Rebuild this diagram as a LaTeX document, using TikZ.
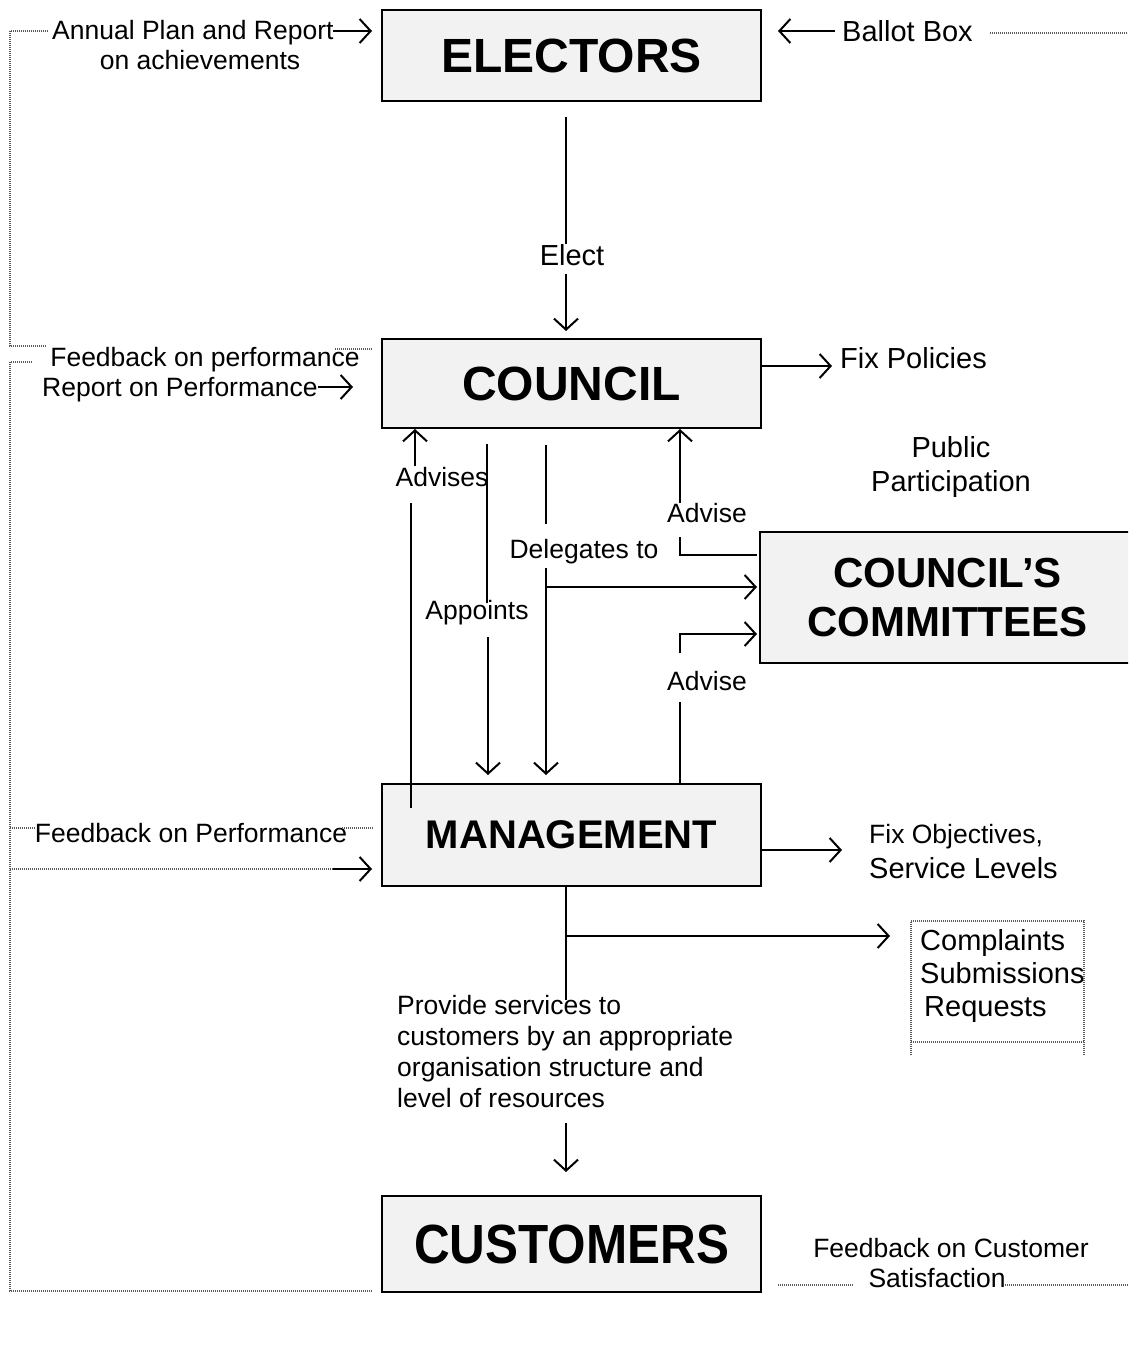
\documentclass[tikz,border=0pt]{standalone}
\usepackage{fontspec}
\setmainfont{Liberation Sans}
\usetikzlibrary{arrows.meta}
\definecolor{boxgray}{RGB}{242,242,242}
\definecolor{dotgray}{RGB}{90,90,90}
\begin{document}
\begin{tikzpicture}[x=1pt,y=-1pt,
  box/.style={draw=black, line width=2.5pt, fill=boxgray, minimum width=379pt, inner sep=0pt, font=\fontsize{48}{50}\selectfont\bfseries},
  conn/.style={line width=2pt},
  arr/.style={line width=2pt, -{Straight Barb[length=11pt,width=24pt,line width=2pt]}},
  dots/.style={line width=1.2pt, draw=dotgray, dash pattern=on 1pt off 1pt},
  lbl/.style={inner sep=0pt, font=\fontsize{26.5}{31}\selectfont},
  big/.style={inner sep=0pt, font=\fontsize{29}{33}\selectfont},
]
\useasboundingbox (0,0) rectangle (1128,1349);
\clip (0,0) rectangle (1128,1349);

% ---------- boxes ----------
\node[box, minimum height=91pt] (electors) at (571.5,55.5) {ELECTORS};
\node[box, minimum height=89pt] (council) at (571.5,383.5) {COUNCIL};
\node[box, minimum width=375pt, minimum height=131pt, align=center,
      font=\fontsize{42}{49}\selectfont\bfseries] (committees) at (947.5,597.5) {COUNCIL’S\\COMMITTEES};
\node[box, minimum height=102pt, font=\fontsize{40}{44}\selectfont\bfseries] (management) at (571.5,835) {MANAGEMENT};
\node[box, minimum height=96pt] (customers) at (571.5,1244) {\scalebox{1.03}[1.15]{CUSTOMERS}};

% ---------- labels ----------
\node[lbl, anchor=base west] (annual) at (52,39.5) {Annual Plan and Report};
\node[lbl, anchor=base] (achieve) at (200,69.5) {on achievements};
\node[big, anchor=base west] (ballot) at (842,41) {Ballot Box};
\node[lbl, anchor=base] (fbperf) at (205,366.5) {Feedback on performance};
\node[lbl, anchor=base west] (repperf) at (42,396.5) {Report on Performance};
\node[big, anchor=base west] (fixpol) at (840,368) {Fix Policies};
\node[big, anchor=base] (public) at (951,457) {Public};
\node[big, anchor=base] (particip) at (951,491) {Participation};
\node[big, anchor=base] (elect) at (572,265.5) {Elect};
\node[lbl, anchor=base] (advises) at (442,486.5) {Advises};
\node[lbl, anchor=base] (appoints) at (477,619.5) {Appoints};
\node[lbl, anchor=base] (delegates) at (584,558.5) {Delegates to};
\node[lbl, anchor=base] (adviseA) at (707,522.5) {Advise};
\node[lbl, anchor=base] (adviseB) at (707,690.5) {Advise};
\node[lbl, anchor=base] (fbmgmt) at (191,842.5) {Feedback on Performance};
\node[lbl, anchor=base west] (fixobj) at (869,843) {Fix Objectives,};
\node[big, anchor=base west] (servlev) at (869,878) {Service Levels};
\node[big, anchor=base west] (complaints) at (920,950) {Complaints};
\node[big, anchor=base west] (submissions) at (920,983) {Submissions};
\node[big, anchor=base west] (requests) at (924,1016) {Requests};
\node[lbl, anchor=base west] (prov1) at (397,1014.5) {Provide services to};
\node[lbl, anchor=base west] (prov2) at (397,1045.5) {customers by an appropriate};
\node[lbl, anchor=base west] (prov3) at (397,1076.5) {organisation structure and};
\node[lbl, anchor=base west] (prov4) at (397,1107.5) {level of resources};
\node[lbl, anchor=base] (fbcust) at (951,1257.5) {Feedback on Customer};
\node[lbl, anchor=base] (satis) at (937,1287.5) {Satisfaction};

% ---------- free-end coordinates ----------
\coordinate (elA) at (566,117);
\coordinate (elB) at (566,244);
\coordinate (elC) at (566,274);
\coordinate (elD) at (566,331);
\coordinate (adsA) at (411,808);
\coordinate (adsB) at (411,503);
\coordinate (adsC) at (415,466);
\coordinate (adsD) at (415,429);
\coordinate (apA) at (487,444);
\coordinate (apB) at (487,603);
\coordinate (apC) at (488,637);
\coordinate (apD) at (488,775);
\coordinate (dgA) at (546,445);
\coordinate (dgB) at (546,524);
\coordinate (dgC) at (546,568);
\coordinate (dgD) at (546,775);
\coordinate (dgE) at (546,587);
\coordinate (dgF) at (757,587);
\coordinate (avA) at (680,503);
\coordinate (avB) at (680,429);
\coordinate (avC) at (757,555);
\coordinate (avD) at (680,555);
\coordinate (avE) at (680,537);
\coordinate (bvA) at (680,785);
\coordinate (bvB) at (680,702);
\coordinate (bvC) at (680,653);
\coordinate (bvD) at (680,634);
\coordinate (bvE) at (757,634);
\coordinate (fpA) at (761,366);
\coordinate (fpB) at (832,366);
\coordinate (foA) at (761,850);
\coordinate (foB) at (842,850);
\coordinate (mbA) at (566,886);
\coordinate (mbB) at (566,1000);
\coordinate (mbC) at (566,936);
\coordinate (mbD) at (890,936);
\coordinate (cuA) at (566,1123);
\coordinate (cuB) at (566,1172);
\coordinate (anA) at (333,31);
\coordinate (anB) at (372,31);
\coordinate (baA) at (835,31);
\coordinate (baB) at (778,31);
\coordinate (rpA) at (318,387);
\coordinate (rpB) at (353,387);
\coordinate (fmA) at (333,869);
\coordinate (fmB) at (372,869);

% ---------- solid connectors ----------
\draw[conn] (elA) -- (elB);
\draw[arr] (elC) -- (elD);
\draw[conn] (adsA) -- (adsB);
\draw[arr] (adsC) -- (adsD);
\draw[conn] (apA) -- (apB);
\draw[arr] (apC) -- (apD);
\draw[conn] (dgA) -- (dgB);
\draw[arr] (dgC) -- (dgD);
\draw[arr] (dgE) -- (dgF);
\draw[arr] (avA) -- (avB);
\draw[conn] (avC) -- (avD) -- (avE);
\draw[conn] (bvA) -- (bvB);
\draw[arr] (bvC) -- (bvD) -- (bvE);
\draw[arr] (fpA) -- (fpB);
\draw[arr] (foA) -- (foB);
\draw[conn] (mbA) -- (mbB);
\draw[arr] (mbC) -- (mbD);
\draw[arr] (cuA) -- (cuB);
\draw[arr] (anA) -- (anB);
\draw[arr] (baA) -- (baB);
\draw[arr] (rpA) -- (rpB);
\draw[arr] (fmA) -- (fmB);

% ---------- dotted feedback lines ----------
\draw[dots] (48,31) -- (10,31) -- (10,346) -- (47,346);
\draw[dots] (335,349) -- (373,349);
\draw[dots] (32,362) -- (10,362) -- (10,1291) -- (373,1291);
\draw[dots] (10,828) -- (35,828);
\draw[dots] (342,828) -- (373,828);
\draw[dots] (10,869) -- (fmA);
\draw[dots] (990,33) -- (1128,33);
\draw[dots] (778,1285) -- (853,1285);
\draw[dots] (1005,1285) -- (1128,1285);
\draw[dots] (911,1055) -- (911,921) -- (1084,921) -- (1084,1055);
\draw[dots] (911,1042) -- (1084,1042);
\end{tikzpicture}
\end{document}
